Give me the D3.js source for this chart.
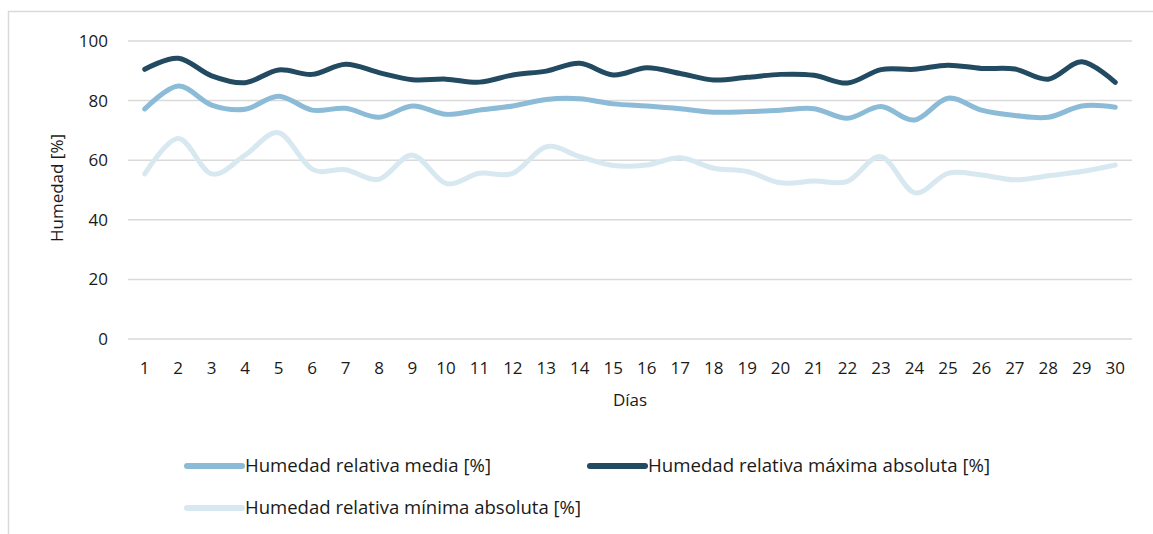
<!DOCTYPE html>
<html>
<head>
<meta charset="utf-8">
<script src="https://cdn.jsdelivr.net/npm/d3@7"></script>
<style>
  body { margin: 0; background: #fff; }
  svg { display: block; font-family: "Open Sans", Lato, sans-serif; }
</style>
</head>
<body>
<svg id="chart" width="1153" height="534"></svg>
<script>
const dias = d3.range(1, 31);
const media = [77.2, 84.9, 78.5, 77.1, 81.5, 76.8, 77.4, 74.4, 78.2, 75.4,
  76.8, 78.2, 80.4, 80.6, 78.9, 78.2, 77.3, 76.1, 76.3, 76.8,
  77.3, 74.1, 78.0, 73.5, 80.8, 76.8, 75.0, 74.4, 78.2, 77.8];
const maxima = [90.5, 94.2, 88.3, 86.0, 90.3, 88.8, 92.2, 89.4, 87.0, 87.2,
  86.2, 88.6, 89.9, 92.5, 88.6, 91.0, 89.1, 86.9, 87.8, 88.8,
  88.5, 85.9, 90.4, 90.5, 91.9, 90.8, 90.6, 87.2, 93.0, 86.1];
const minima = [55.4, 67.3, 55.4, 61.7, 69.2, 57.0, 56.8, 53.6, 61.7, 52.2,
  55.6, 55.6, 64.5, 61.2, 58.2, 58.4, 60.8, 57.3, 56.2, 52.4,
  53.0, 52.9, 61.2, 49.1, 55.6, 55.0, 53.4, 54.8, 56.2, 58.4];
const yTicks = [0, 20, 40, 60, 80, 100];

const series = [
  { name: "Humedad relativa media [%]", values: media, color: "#8BBBD6" },
  { name: "Humedad relativa máxima absoluta [%]", values: maxima, color: "#224A61" },
  { name: "Humedad relativa mínima absoluta [%]", values: minima, color: "#D8E8F1" }
];

const svg = d3.select("#chart");

// chart frame (Excel style, only top and left edges visible)
svg.append("rect")
  .attr("x", 8.5).attr("y", 11.5)
  .attr("width", 1160).attr("height", 540)
  .attr("fill", "none").attr("stroke", "#D9D9D9").attr("stroke-width", 1.5);

const plotLeft = 128, plotRight = 1132, plotTop = 41, plotBottom = 339;

const x = d3.scaleBand().domain(dias).range([plotLeft, plotRight]);
const y = d3.scaleLinear().domain([0, 100]).range([plotBottom, plotTop]);

// gridlines
svg.append("g")
  .selectAll("line")
  .data(yTicks)
  .join("line")
  .attr("x1", plotLeft).attr("x2", plotRight)
  .attr("y1", d => y(d)).attr("y2", d => y(d))
  .attr("stroke", "#D9D9D9").attr("stroke-width", 1.5);

// y tick labels
svg.append("g")
  .selectAll("text")
  .data(yTicks)
  .join("text")
  .attr("x", 108).attr("y", d => y(d))
  .attr("dy", "0.35em")
  .attr("text-anchor", "end")
  .attr("font-size", 17).attr("fill", "#1a1a1a")
  .text(d => d);

// x tick labels
svg.append("g")
  .selectAll("text")
  .data(dias)
  .join("text")
  .attr("x", d => x(d) + x.bandwidth() / 2)
  .attr("y", 368)
  .attr("dy", "0.35em")
  .attr("text-anchor", "middle")
  .attr("font-size", 17).attr("fill", "#1a1a1a")
  .text(d => d);

// axis titles
svg.append("text")
  .attr("transform", "rotate(-90)")
  .attr("x", -188).attr("y", 57)
  .attr("dy", "0.35em")
  .attr("text-anchor", "middle")
  .attr("font-size", 17).attr("fill", "#1a1a1a")
  .text("Humedad [%]");

svg.append("text")
  .attr("x", (plotLeft + plotRight) / 2).attr("y", 400)
  .attr("dy", "0.35em")
  .attr("text-anchor", "middle")
  .attr("font-size", 17).attr("fill", "#1a1a1a")
  .text("Días");

// lines
const line = d3.line()
  .x((d, i) => x(dias[i]) + x.bandwidth() / 2)
  .y(d => y(d))
  .curve(d3.curveCardinal.tension(0));

// draw min first, then mean, then max (max on top)
[series[2], series[0], series[1]].forEach(s => {
  svg.append("path")
    .datum(s.values)
    .attr("d", line)
    .attr("fill", "none")
    .attr("stroke", s.color)
    .attr("stroke-width", 5)
    .attr("stroke-linecap", "round")
    .attr("stroke-linejoin", "round");
});

// legend
const legendPos = [
  { lx: 187, ly: 466, w: 246 },
  { lx: 590, ly: 466, w: 342 },
  { lx: 187, ly: 508, w: 336 }
];
series.forEach((s, i) => {
  const p = legendPos[i];
  const g = svg.append("g").attr("transform", `translate(${p.lx},${p.ly})`);
  g.append("line")
    .attr("x1", 0).attr("x2", 55)
    .attr("stroke", s.color).attr("stroke-width", 6)
    .attr("stroke-linecap", "round");
  g.append("text")
    .attr("x", 58).attr("dy", "0.35em")
    .attr("font-size", 18).attr("fill", "#1a1a1a")
    .attr("textLength", p.w).attr("lengthAdjust", "spacingAndGlyphs")
    .text(s.name);
});
</script>
</body>
</html>
